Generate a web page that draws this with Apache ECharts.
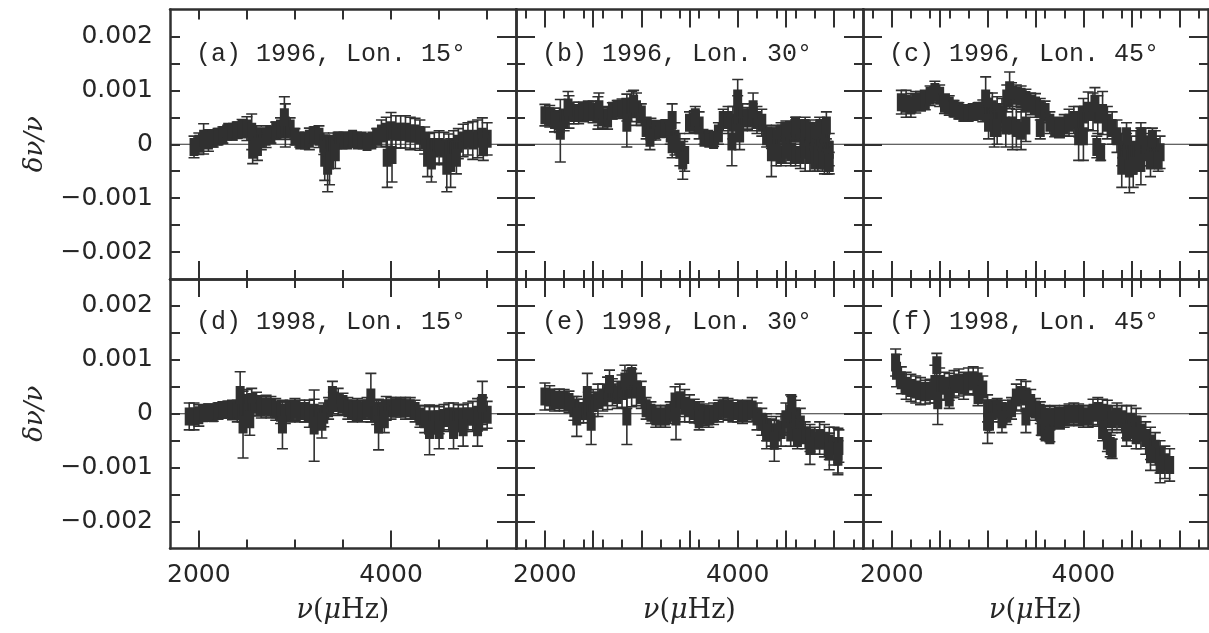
<!DOCTYPE html>
<html>
<head>
<meta charset="utf-8">
<script src="https://cdn.jsdelivr.net/npm/echarts@6/dist/echarts.min.js"></script>
<style>html,body{margin:0;padding:0;background:#fff}#chart{width:1209px;height:633px}</style>
</head>
<body>
<div id="chart"></div>
<script>
// ---------------- data ----------------
const PANEL_LABELS = ['(a) 1996, Lon. 15°','(b) 1996, Lon. 30°','(c) 1996, Lon. 45°',
                      '(d) 1998, Lon. 15°','(e) 1998, Lon. 30°','(f) 1998, Lon. 45°'];
const Y_TITLE = 'δν/ν';
const X_TICK_LABELS = [2000, 4000];
const Y_TICK_LABELS = [-0.002, -0.001, 0, 0.001, 0.002];
const X_MAJOR = [2000, 2500, 3000, 3500, 4000, 4500, 5000];
const X_MINOR = [1800, 2200, 2400, 2600, 2800, 3200, 3400, 3600, 3800, 4200, 4400, 4600, 4800, 5200];
const X_MAJOR_15 = [2000, 4000];
const X_MINOR_15 = [2500, 3000, 3500, 4500, 5000];
const Y_MAJOR = [-0.002, -0.001, 0, 0.001, 0.002];
const Y_MINOR = [-0.0015, -0.0005, 0.0005, 0.0015];

// (a) 1996, Lon. 15
const A_FREQ = [1950,2000,2050,2100,2150,2200,2250,2300,2350,2400,2450,2500,2550,2600,2650,2700,2750,2800,2850,2900,2950,3000,3050,3100,3150,3200,3250,3300,3350,3400,3450,3500,3550,3600,3650,3700,3750,3800,3850,3900,3950,4000,4050,4100,4150,4200,4250,4300,4350,4400,4450,4500,4550,4600,4650,4700,4750,4800,4850,4900,4950,5000];
const A_DNU = [-0.00005,0.00001,0.0001,0.00007,0.0001,0.00014,0.00017,0.00023,0.00023,0.00026,0.00029,0.00029,0.00023,0.00014,0.0001,0.00014,0.00017,0.00026,0.00029,0.00035,0.00029,0.00014,0.00007,0.00007,0.0001,0.00017,0.00014,0.00001,-0.00005,0.00001,0.00007,0.00007,0.00007,0.0001,0.00007,0.00007,0.00004,0.00007,0.00014,0.0002,0.00023,0.00026,0.00023,0.00023,0.00023,0.0002,0.0002,0.00017,0.00007,-0.00005,-0.00008,-0.00005,-0.00008,-0.00011,-0.00005,0.00001,0.00007,0.0001,0.00007,0.0001,0.00014,0.0001];
const A_ERR = [0.0002,0.0002,0.00028,0.0002,0.00015,0.00015,0.00015,0.00012,0.00015,0.00015,0.00017,0.00022,0.00033,0.0002,0.0002,0.0002,0.00015,0.00015,0.0002,0.0004,0.0002,0.00015,0.00012,0.00012,0.0002,0.00015,0.0002,0.0002,0.0002,0.0002,0.00015,0.00012,0.00012,0.00012,0.00012,0.00012,0.00012,0.00012,0.00015,0.00025,0.00027,0.00033,0.0003,0.0003,0.0003,0.0003,0.00028,0.00028,0.00025,0.00025,0.0003,0.0003,0.0003,0.0003,0.0003,0.00028,0.0003,0.0003,0.00035,0.00035,0.00035,0.0003];
const A_OUT_FREQ = [2560,2610,2890,3310,3340,3360,3420,3960,4010,4380,4420,4580,4620,4680,4960];
const A_OUT_DNU = [-0.0001,-0.00005,0.0005,-0.00025,-0.0004,-0.0003,-0.00015,-0.00025,-0.0002,-0.00025,-0.0003,-0.0004,-0.00035,-0.00025,-0.00005];
const A_OUT_ERR = [0.00026,0.00025,0.00038,0.00042,0.00048,0.00045,0.0003,0.00055,0.0005,0.00035,0.0004,0.00048,0.00045,0.0003,0.00025];

// (b) 1996, Lon. 30
const B_FREQ = [2000,2050,2100,2150,2200,2250,2300,2350,2400,2450,2500,2550,2600,2650,2700,2750,2800,2850,2900,2950,3000,3050,3100,3150,3200,3250,3300,3350,3400,3450,3500,3550,3600,3650,3700,3750,3800,3850,3900,3950,4000,4050,4100,4150,4200,4250,4300,4350,4400,4450,4500,4550,4600,4650,4700,4750,4800,4850,4900,4950];
const B_DNU = [0.00054,0.00052,0.00045,0.00042,0.00045,0.0006,0.00058,0.00058,0.0006,0.00062,0.0006,0.00058,0.0005,0.00048,0.00062,0.00066,0.00066,0.00068,0.0007,0.00065,0.00055,0.0003,0.00028,0.00026,0.00028,0.0003,0.0002,0.0001,-0.0001,-0.0002,0.0004,0.00042,0.00035,0.00012,0.0001,0.00008,0.0002,0.00045,0.00045,0.0004,0.00055,0.0005,0.00048,0.0005,0.00045,0.0004,0.00015,0.00012,0.0001,0.0002,0.00025,0.00022,0.00025,0.0002,0.00015,0.0001,0.00005,0.00005,0,-0.0001];
const B_ERR = [0.0002,0.0002,0.00022,0.0002,0.0002,0.0003,0.0002,0.0002,0.00018,0.00018,0.0002,0.0003,0.0002,0.0002,0.00015,0.00015,0.00018,0.00025,0.00028,0.0003,0.0002,0.0002,0.0002,0.00018,0.00015,0.00015,0.0002,0.0003,0.0003,0.0003,0.0002,0.0002,0.00025,0.00012,0.00012,0.00012,0.0002,0.0002,0.00025,0.0003,0.00035,0.00025,0.0002,0.00025,0.00025,0.00025,0.0002,0.0002,0.00025,0.0002,0.00018,0.0002,0.0002,0.00025,0.00025,0.0003,0.0003,0.00035,0.00035,0.0003];
const B_OUT_FREQ = [2160,2240,2560,2850,2920,3090,3320,3320,3430,3560,3940,4000,4020,4160,4350,4400,4450,4500,4550,4600,4600,4650,4700,4700,4750,4750,4800,4800,4830,4850,4880,4900,4900,4920,4930,4950];
const B_OUT_DNU = [0.00025,0.00068,0.00065,0.0004,0.00075,0.00012,0.00045,0,-0.0003,0.0005,0.00005,0.00085,0.0002,0.00065,-0.00015,-0.00015,-0.0002,-0.0001,-0.00015,0.00035,-0.0002,-0.0002,-0.0001,0.0003,-0.0002,0.00025,-0.0003,0.0002,-0.0002,0.0003,-0.0003,-0.0003,0.0002,0.00035,-0.00025,-0.00035];
const B_OUT_ERR = [0.00058,0.0003,0.0003,0.00045,0.00025,0.00022,0.0003,0.00025,0.00035,0.0002,0.00045,0.00035,0.0003,0.0003,0.00045,0.00025,0.0002,0.00025,0.00025,0.00015,0.0002,0.00025,0.0004,0.0002,0.0003,0.0002,0.0002,0.0002,0.0003,0.0002,0.0002,0.00025,0.0002,0.00025,0.0003,0.0002];

// (c) 1996, Lon. 45
const C_FREQ = [2100,2150,2200,2250,2300,2350,2400,2450,2500,2550,2600,2650,2700,2750,2800,2850,2900,2950,3000,3050,3100,3150,3200,3250,3300,3350,3400,3450,3500,3550,3600,3650,3700,3750,3800,3850,3900,3950,4000,4050,4100,4150,4200,4250,4300,4350,4400,4450,4500,4550,4600,4650,4700,4750,4800];
const C_DNU = [0.00078,0.00075,0.00072,0.00078,0.0008,0.00082,0.0009,0.00097,0.0009,0.00075,0.00072,0.00066,0.00062,0.00058,0.00058,0.0006,0.00062,0.00062,0.0007,0.00065,0.0006,0.00055,0.00085,0.00092,0.0009,0.00088,0.00082,0.00075,0.00072,0.00065,0.0006,0.0004,0.00032,0.0003,0.00035,0.0004,0.00045,0.00042,0.00055,0.00062,0.0006,0.00055,0.00058,0.0004,0.0003,0.00015,-0.0001,-0.00015,-0.0002,-0.0001,-0.00005,0,-0.0001,-0.00005,-0.00015];
const C_ERR = [0.00022,0.00025,0.00022,0.0002,0.00018,0.00018,0.00018,0.0002,0.0002,0.00018,0.00018,0.00015,0.00015,0.00015,0.00015,0.00015,0.00015,0.0002,0.00025,0.0003,0.00028,0.0003,0.00025,0.00022,0.0002,0.0002,0.0002,0.0002,0.00022,0.0002,0.0002,0.0002,0.00018,0.00018,0.0002,0.00025,0.00025,0.00028,0.0003,0.00035,0.00035,0.00035,0.0004,0.0003,0.0003,0.0003,0.0003,0.00035,0.00035,0.00035,0.00035,0.0003,0.0003,0.0003,0.0003];
const C_OUT_FREQ = [2980,3010,3070,3100,3190,3230,3260,3300,3350,3400,3550,3950,4000,4120,4140,4180,4400,4450,4480,4520,4600,4600,4700,4720,4780];
const C_OUT_DNU = [0.00085,0.0004,0.0003,0.0003,0.00035,0.001,0.00035,0.0003,0.00025,0.00035,0.0003,0.00015,0.00015,0.00075,-0.00005,-0.00015,-0.0004,0.00015,-0.00045,-0.0004,-0.00035,0.00015,-0.0003,0.0001,-0.0003];
const C_OUT_ERR = [0.0004,0.0003,0.00035,0.0003,0.0004,0.00034,0.00045,0.00035,0.00035,0.0003,0.0002,0.00045,0.00045,0.0003,0.0002,0.00015,0.0004,0.00025,0.00045,0.0004,0.0004,0.00025,0.0003,0.0002,0.0002];

// (d) 1998, Lon. 15
const D_FREQ = [1950,2000,2050,2100,2150,2200,2250,2300,2350,2400,2450,2500,2550,2600,2650,2700,2750,2800,2850,2900,2950,3000,3050,3100,3150,3200,3250,3300,3350,3400,3450,3500,3550,3600,3650,3700,3750,3800,3850,3900,3950,4000,4050,4100,4150,4200,4250,4300,4350,4400,4450,4500,4550,4600,4650,4700,4750,4800,4850,4900,4950,5000];
const D_DNU = [-0.00005,-0.00003,0.00001,0.00003,0.00001,0.00005,0.00007,0.00008,0.00007,0.00005,0.0001,0.0002,0.00022,0.00018,0.00012,0.00014,0.00012,0.00008,0.00002,0.00002,0.00005,0.00008,0.00005,0.00005,0,0.00002,-0.00005,-0.00002,0.0001,0.0002,0.00022,0.00018,0.0001,0.00005,0.00008,0.00005,0.0001,0.00005,0.00002,0.00005,0.0001,0.0001,0.00012,0.00012,0.0001,0.0001,0.00005,-0.00005,-0.0001,-0.00012,-0.0001,-0.00012,-0.00008,-0.00005,-0.00005,-0.00008,-0.00008,-0.00005,-0.00005,-0.00002,0,-0.00002];
const D_ERR = [0.00025,0.0002,0.00015,0.00015,0.00015,0.00015,0.00015,0.00015,0.00018,0.0002,0.00025,0.00025,0.00025,0.00022,0.0002,0.0002,0.0002,0.0002,0.0002,0.0002,0.0002,0.0002,0.0002,0.0002,0.00025,0.00025,0.0002,0.00022,0.0002,0.0002,0.00025,0.0002,0.0002,0.0002,0.0002,0.0002,0.0002,0.0002,0.00022,0.0002,0.00022,0.0002,0.00018,0.00018,0.0002,0.0002,0.0002,0.0002,0.00025,0.00025,0.00025,0.00025,0.00025,0.00025,0.00025,0.00025,0.00025,0.00025,0.00028,0.0003,0.0003,0.00025];
const D_OUT_FREQ = [1900,2430,2460,2530,2870,3200,3280,3390,3790,3870,3930,4400,4500,4650,4750,4900,4950];
const D_OUT_DNU = [-0.00005,0.00035,-0.0002,-0.0001,-0.0002,-0.00022,-0.00015,0.00035,0.0003,-0.0002,-0.0001,-0.0003,-0.0003,-0.0003,-0.00025,-0.00025,0.0002];
const D_OUT_ERR = [0.00025,0.00043,0.00062,0.0003,0.00045,0.00066,0.0003,0.00025,0.00045,0.00047,0.00025,0.00046,0.00035,0.00035,0.00035,0.00035,0.0004];

// (e) 1998, Lon. 30
const E_FREQ = [2000,2050,2100,2150,2200,2250,2300,2350,2400,2450,2500,2550,2600,2650,2700,2750,2800,2850,2900,2950,3000,3050,3100,3150,3200,3250,3300,3350,3400,3450,3500,3550,3600,3650,3700,3750,3800,3850,3900,3950,4000,4050,4100,4150,4200,4250,4300,4350,4400,4450,4500,4550,4600,4650,4700,4750,4800,4850,4900,4950,5000,5050];
const E_DNU = [0.00032,0.0003,0.00025,0.00026,0.00025,0.00022,0.0001,0.00005,0.00005,0.00015,0.0002,0.00025,0.0003,0.00038,0.0004,0.00035,0.00042,0.00045,0.00048,0.00045,0.00035,0.0001,0.00002,-0.00005,-0.00005,-0.00005,0.00002,0.0002,0.00025,0.00015,0.0001,0.00005,0.00002,-0.00002,-0.00005,0,0.00005,0.0001,0.00008,0.00005,0.00005,0.00002,0.00005,0.00008,-0.00005,-0.00015,-0.00025,-0.00035,-0.00035,-0.0003,-0.0001,0,-0.00005,-0.0002,-0.0004,-0.00045,-0.0005,-0.00045,-0.0005,-0.00055,-0.0006,-0.0006];
const E_ERR = [0.00025,0.00022,0.0002,0.0002,0.0002,0.0002,0.00022,0.00022,0.00022,0.00025,0.00025,0.0003,0.00025,0.0003,0.00025,0.00025,0.0003,0.00035,0.00035,0.0003,0.00025,0.0002,0.0002,0.0002,0.0002,0.0002,0.0002,0.0003,0.0003,0.0003,0.00025,0.00022,0.0002,0.0002,0.0002,0.0002,0.0002,0.0002,0.0002,0.0002,0.0002,0.0002,0.0002,0.00022,0.00025,0.00025,0.00025,0.00025,0.0003,0.0003,0.0003,0.00035,0.0003,0.0003,0.00025,0.00025,0.00025,0.0003,0.0003,0.0003,0.00035,0.0003];
const E_OUT_FREQ = [2330,2440,2480,2670,2830,2850,2900,3360,3600,4300,4380,4550,4560,4620,4750,4950,5040,5040];
const E_OUT_DNU = [-0.00005,0.00035,-0.00015,0.00055,0.0006,-0.00005,0.0007,-0.00005,-0.0001,-0.00035,-0.0005,-0.00035,0.0002,-0.00045,-0.0006,-0.0007,-0.0008,-0.0007];
const E_OUT_ERR = [0.00037,0.0004,0.00042,0.00026,0.0003,0.00052,0.0002,0.00043,0.0002,0.0003,0.00038,0.00025,0.00012,0.0002,0.00034,0.00034,0.0003,0.00043];

// (f) 1998, Lon. 45
const F_FREQ = [2050,2100,2150,2200,2250,2300,2350,2400,2450,2500,2550,2600,2650,2700,2750,2800,2850,2900,2950,3000,3050,3100,3150,3200,3250,3300,3350,3400,3450,3500,3550,3600,3650,3700,3750,3800,3850,3900,3950,4000,4050,4100,4150,4200,4250,4300,4350,4400,4450,4500,4550,4600,4650,4700,4750,4800,4850,4900];
const F_DNU = [0.0008,0.00062,0.00052,0.00048,0.00045,0.00042,0.0004,0.00042,0.00055,0.00055,0.00052,0.0005,0.00055,0.00058,0.00052,0.0006,0.00062,0.0006,0.00045,0.0001,0.00005,0.0001,0.00005,0,0.0001,0.0003,0.00035,0.00032,0.0002,0.00008,0.00002,-0.00005,-0.00008,-0.00005,-0.00008,-0.00005,-0.00002,0,-0.00002,-0.00005,-0.00005,0.00002,0.00005,0.00002,0,-0.0001,-0.00005,-0.0001,-0.00015,-0.00015,-0.0002,-0.00035,-0.00045,-0.00055,-0.00065,-0.0008,-0.0009,-0.00095];
const F_ERR = [0.0003,0.00025,0.00025,0.00025,0.00025,0.00025,0.00022,0.00022,0.00035,0.0003,0.00025,0.00025,0.00025,0.00025,0.00025,0.00025,0.00025,0.00025,0.00025,0.00025,0.0002,0.00018,0.0002,0.0002,0.0002,0.00025,0.00028,0.00028,0.00025,0.0002,0.0002,0.0002,0.00022,0.0002,0.0002,0.0002,0.0002,0.0002,0.0002,0.0002,0.0002,0.00025,0.00025,0.00025,0.00025,0.00025,0.00025,0.00025,0.0003,0.0003,0.0003,0.0003,0.0003,0.0003,0.0003,0.0003,0.0003,0.0003];
const F_OUT_FREQ = [2040,2470,2480,2600,2900,3000,3020,3150,3400,3560,3600,3650,4200,4250,4280,4300,4450,4550,4700,4800];
const F_OUT_DNU = [0.00095,0.0009,0.00025,0.0003,0.00035,-0.00015,-0.00015,-0.0001,-0.00005,-0.00025,-0.00035,-0.0004,-0.0003,-0.0005,-0.0006,-0.00065,-0.00035,-0.0004,-0.00075,-0.00095];
const F_OUT_ERR = [0.00025,0.00022,0.00045,0.0002,0.0002,0.0004,0.0002,0.00025,0.0003,0.00015,0.00012,0.00012,0.0002,0.0002,0.0002,0.00018,0.00025,0.00025,0.0003,0.00033];

// ---------------- style / layout ----------------
const INK = '#303030';
const TXT = '#262626';
const X_MIN = 1700, X_MAX = 5300, Y_MIN = -0.0025, Y_MAX = 0.0025;
const CAP = 5.5, MW = 9, MH = 18;
const LAYOUT = [
  {left:170, top:9.5, width:346, height:269.5, col:0, row:0},
  {left:516, top:9.5, width:347, height:269.5, col:1, row:0},
  {left:863, top:9.5, width:345, height:269.5, col:2, row:0},
  {left:170, top:279, width:346, height:269.5, col:0, row:1},
  {left:516, top:279, width:347, height:269.5, col:1, row:1},
  {left:863, top:279, width:345, height:269.5, col:2, row:1}
];
const PANELS = [
  {freq:A_FREQ, dnu:A_DNU, err:A_ERR, of:A_OUT_FREQ, od:A_OUT_DNU, oe:A_OUT_ERR},
  {freq:B_FREQ, dnu:B_DNU, err:B_ERR, of:B_OUT_FREQ, od:B_OUT_DNU, oe:B_OUT_ERR},
  {freq:C_FREQ, dnu:C_DNU, err:C_ERR, of:C_OUT_FREQ, od:C_OUT_DNU, oe:C_OUT_ERR},
  {freq:D_FREQ, dnu:D_DNU, err:D_ERR, of:D_OUT_FREQ, od:D_OUT_DNU, oe:D_OUT_ERR},
  {freq:E_FREQ, dnu:E_DNU, err:E_ERR, of:E_OUT_FREQ, od:E_OUT_DNU, oe:E_OUT_ERR},
  {freq:F_FREQ, dnu:F_DNU, err:F_ERR, of:F_OUT_FREQ, od:F_OUT_DNU, oe:F_OUT_ERR}
];

function renderPoint(params, api) {
  const f = api.value(0), v = api.value(1), e = api.value(2);
  const c = api.coord([f, v]);
  const t = api.coord([f, v + e]);
  const b = api.coord([f, v - e]);
  const ls = {stroke: INK, lineWidth: 1.6};
  return {type:'group', children:[
    {type:'line', shape:{x1:c[0], y1:t[1], x2:c[0], y2:b[1]}, style:ls},
    {type:'line', shape:{x1:c[0]-CAP, y1:t[1], x2:c[0]+CAP, y2:t[1]}, style:ls},
    {type:'line', shape:{x1:c[0]-CAP, y1:b[1], x2:c[0]+CAP, y2:b[1]}, style:ls},
    {type:'rect', shape:{x:c[0]-MW/2, y:c[1]-MH/2, width:MW, height:MH}, style:{fill:INK}}
  ]};
}

const labelFont = {fontFamily:'DejaVu Sans', fontSize:25, color:TXT};
function xAx(g, pos, ticks, len, line, labels) {
  return {
    type:'value', gridIndex:g, position:pos, min:X_MIN, max:X_MAX,
    axisLine:{show:line, onZero:false, lineStyle:{color:INK, width:2.5}},
    axisTick:{show:ticks.length > 0, inside:true, length:len, customValues:ticks, lineStyle:{color:INK, width:2}},
    axisLabel: labels ? Object.assign({show:true, customValues:labels, margin:14, formatter:v => String(v)}, labelFont) : {show:false},
    splitLine:{show:false}
  };
}
function yFmt(v) {
  if (Math.abs(v) < 1e-12) return '0';
  return (v < 0 ? '\u2212' : '') + Math.abs(v).toFixed(3);
}
function yAx(g, pos, ticks, len, line, labels) {
  return {
    type:'value', gridIndex:g, position:pos, min:Y_MIN, max:Y_MAX,
    axisLine:{show:line, onZero:false, lineStyle:{color:INK, width:2.5}},
    axisTick:{show:ticks.length > 0, inside:true, length:len, customValues:ticks, lineStyle:{color:INK, width:2}},
    axisLabel: labels ? Object.assign({show:true, customValues:labels, margin:17, formatter:yFmt}, labelFont) : {show:false},
    splitLine:{show:false}
  };
}

const grid = [], xAxis = [], yAxis = [], series = [], graphic = [];
PANELS.forEach((p, g) => {
  const L = LAYOUT[g];
  const first = L.col === 0, bottomRow = L.row === 1;
  grid.push({left:L.left, top:L.top, width:L.width, height:L.height});
  const xMaj = first ? X_MAJOR_15 : X_MAJOR, xMin = first ? X_MINOR_15 : X_MINOR;
  xAxis.push(xAx(g, 'bottom', xMaj, 18, true, bottomRow ? X_TICK_LABELS : null));
  xAxis.push(xAx(g, 'bottom', xMin, 9, false, null));
  xAxis.push(xAx(g, 'top', xMaj, g === 0 ? 10 : 18, true, null));
  xAxis.push(xAx(g, 'top', xMin, g === 0 ? 10 : 9, false, null));
  yAxis.push(yAx(g, 'left', Y_MAJOR, first ? 10 : 19, true, first ? Y_TICK_LABELS : null));
  yAxis.push(yAx(g, 'left', Y_MINOR, first ? 10 : 9, false, null));
  yAxis.push(yAx(g, 'right', Y_MAJOR, 19, true, null));
  yAxis.push(yAx(g, 'right', Y_MINOR, 9, false, null));
  const ai = 4 * g;
  series.push({type:'line', xAxisIndex:ai, yAxisIndex:ai, data:[[X_MIN, 0], [X_MAX, 0]],
    symbol:'none', silent:true, z:1, lineStyle:{color:INK, width:1}});
  series.push({type:'custom', xAxisIndex:ai, yAxisIndex:ai, renderItem:renderPoint, clip:true, z:2,
    encode:{x:0, y:1}, data:p.freq.map((f, i) => [f, p.dnu[i], p.err[i]])});
  series.push({type:'custom', xAxisIndex:ai, yAxisIndex:ai, renderItem:renderPoint, clip:true, z:2,
    encode:{x:0, y:1}, data:p.of.map((f, i) => [f, p.od[i], p.oe[i]])});
  graphic.push({type:'text', x:L.left + 26, y:L.row === 0 ? 54 : 322,
    style:{text:PANEL_LABELS[g], font:'25px "Liberation Mono"', fill:TXT, verticalAlign:'middle'}});
  if (bottomRow) {
    graphic.push({type:'text', x:L.left + L.width / 2, y:611,
      style:{text:'{i|ν}({i|μ}Hz)', font:'27px "DejaVu Serif"', fill:TXT, align:'center', verticalAlign:'middle',
        rich:{i:{fontStyle:'italic', fontFamily:'DejaVu Serif', fontSize:27, fill:TXT}}}});
  }
  if (first) {
    graphic.push({type:'text', x:35, y:L.top + L.height / 2, rotation:Math.PI / 2,
      style:{text:Y_TITLE, font:'italic 26px "DejaVu Serif"', fill:TXT, align:'center', verticalAlign:'middle'}});
  }
});

const chart = echarts.init(document.getElementById('chart'), null, {renderer:'canvas'});
chart.setOption({animation:false, backgroundColor:'#fff', grid, xAxis, yAxis, series, graphic});
</script>
</body>
</html>
